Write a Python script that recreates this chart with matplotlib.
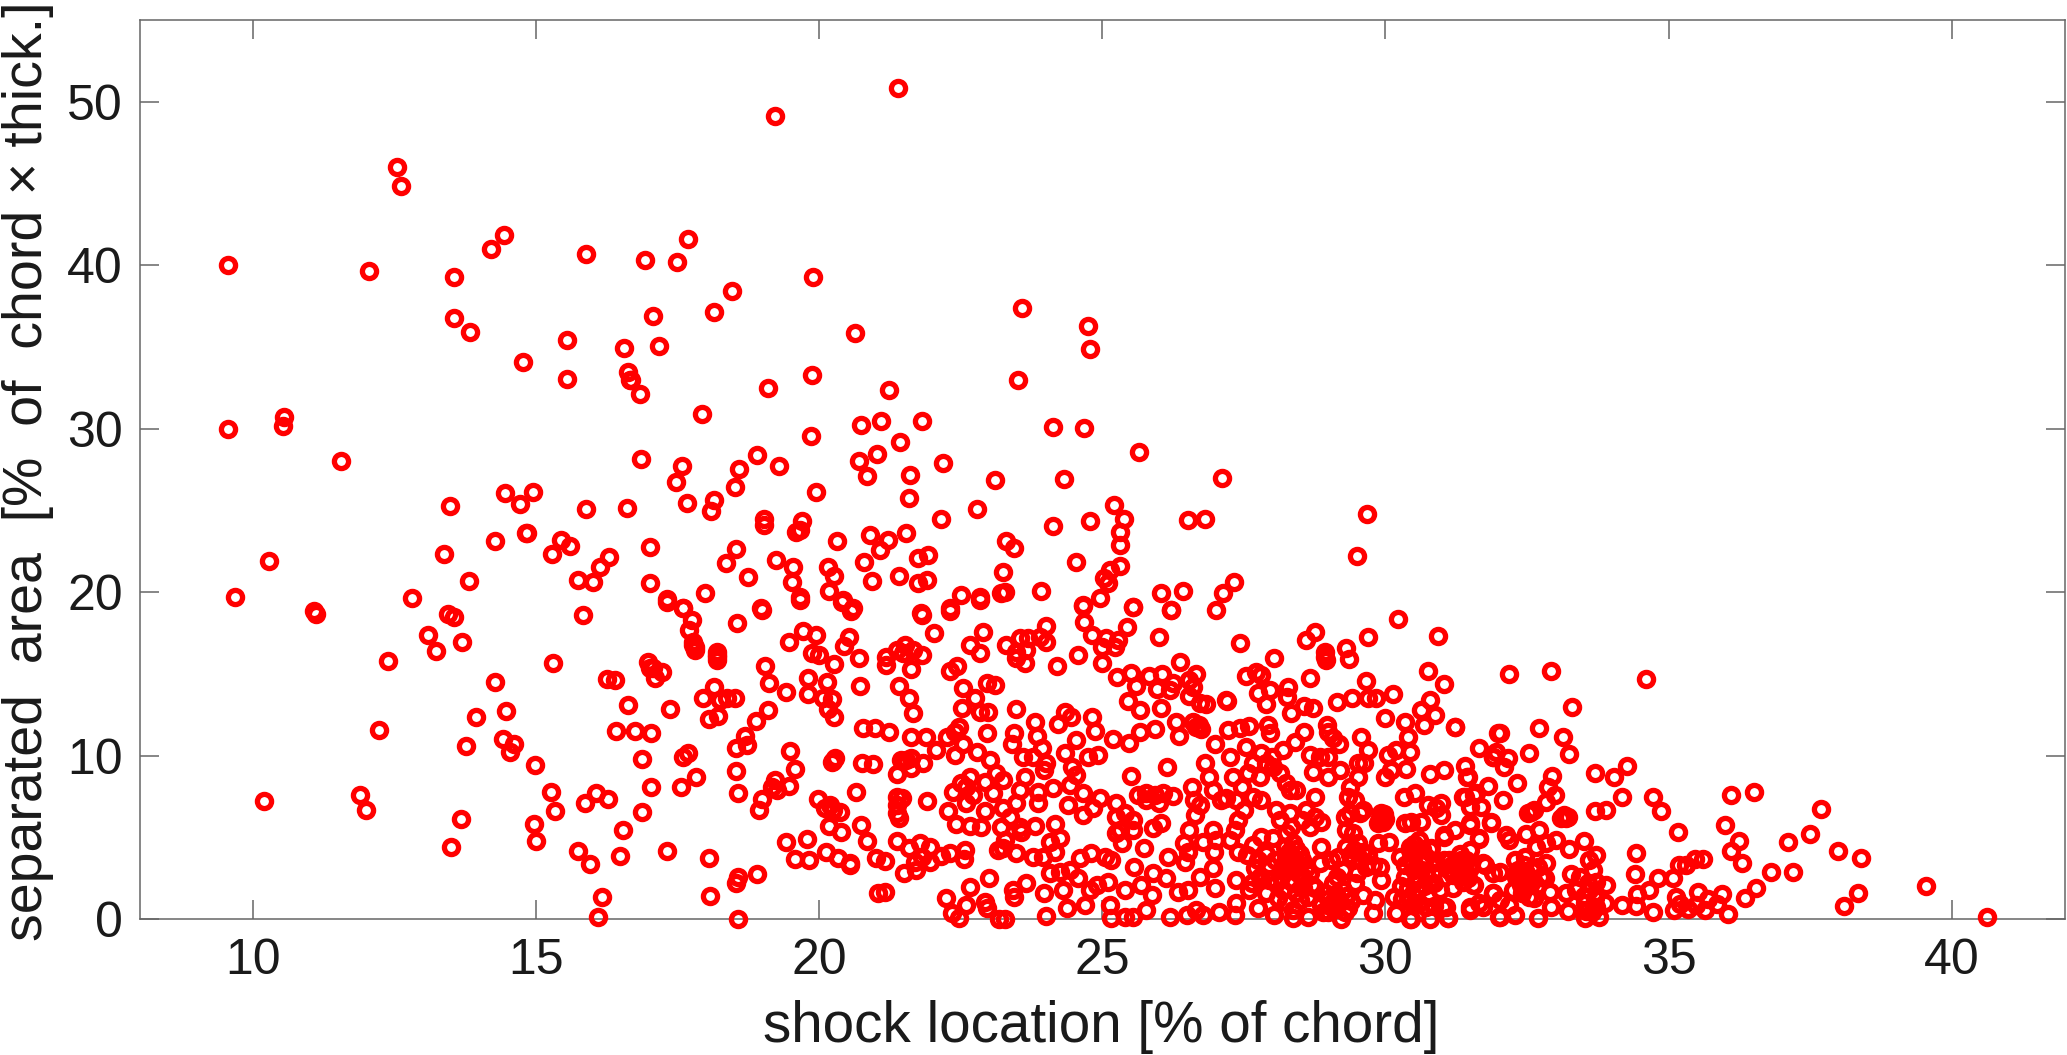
import numpy as np
import matplotlib
matplotlib.use("Agg")
import matplotlib.pyplot as plt

plt.rcParams['font.family'] = ['Liberation Sans', 'DejaVu Sans']

## values as (shock location, separated area)
top_left = [(21.4,50.85),(19.22,49.1),(12.55,46),(12.62,44.82),(9.57,40.03),(12.05,39.65),(13.55,39.3),(14.21,41),
    (14.44,41.85),(15.89,40.7),(16.92,40.34),(17.49,40.2),(17.68,41.6),(13.55,36.79),(13.83,35.89),(9.57,29.96),
    (10.55,30.72),(10.54,30.15),(11.56,28)]

upper_mid = [(19.9,39.25),(18.47,38.43),(18.15,37.15),(17.06,36.9),(15.55,35.4),(17.17,35.05),(16.56,34.91),(14.77,34.05),
    (15.54,33.05),(16.62,33.48),(16.66,32.97),(16.67,33.0),(16.84,32.11),(19.1,32.46),(19.87,33.28),(20.64,35.87),
    (21.24,32.34),(17.94,30.91),(20.74,30.24),(21.1,30.48),(21.82,30.48),(21.43,29.18),(19.85,29.52),(16.85,28.16),
    (18.9,28.38),(17.58,27.73),(18.59,27.51),(19.29,27.73),(20.7,28),(21.03,28.46),(20.85,27.12),(22.19,27.87),
    (21.61,27.14),(21.59,25.77),(23.11,26.83),(17.47,26.71),(18.51,26.41),(19.95,26.12),(14.45,26.04),(14.72,25.41),
    (14.95,26.1),(15.88,25.1),(16.61,25.14),(17.67,25.45),(18.15,25.63),(18.1,24.98),(19.02,24.45),(19.02,24.1),
    (19.7,24.35),(19.66,23.8),(19.6,23.65),(22.16,24.49),(22.79,25.08),(21.54,23.63),(20.9,23.51),(21.22,23.18),
    (21.07,22.57),(20.32,23.12),(14.84,23.59),(15.45,23.18),(15.61,22.84),(15.28,22.35),(16.29,22.17),(16.14,21.51),
    (17.02,22.74),(15.74,20.74),(16.0,20.64),(17.02,20.53),(18.53,22.63),(18.35,21.76),(18.75,20.9),(19.24,21.96),
    (19.54,21.55),(19.52,20.6),(20.16,21.55),(20.26,21),(20.18,20.09),(19.66,19.72),(20.43,19.52),(20.6,19.0),
    (20.8,21.82),(20.93,20.7),(21.41,21),(21.75,22.06),(21.93,22.27),(21.75,20.58),(21.9,20.74),(22.5,19.84),
    (22.85,19.72),(23.22,19.96),(17.31,19.55),(17.6,19.0),(17.99,19.92),(18.98,19),(21.8,18.7),(22.31,19),
    (15.84,18.6),(14.28,23.12)]

upper_right = [(23.59,37.35),(24.74,36.29),(24.78,34.86),(23.51,32.96),(24.13,30.11),(24.68,30.05),(25.65,28.6),(24.33,26.91),
    (27.11,26.95),(25.21,25.32),(25.38,24.48),(26.51,24.4),(26.81,24.46),(24.79,24.36),(24.13,24.05),(29.67,24.77),
    (29.5,22.22),(25.31,23.65),(25.32,22.91),(23.3,23.12),(23.45,22.69),(24.53,21.87),(25.31,21.59),(25.13,21.34),
    (25.03,20.87),(25.1,20.53),(23.25,21.2),(23.28,19.98),(23.92,20.04),(24.96,19.65),(24.66,19.2),(26.03,19.94),
    (26.43,20.04),(27.32,20.63),(27.14,19.96),(25.54,19.1),(26.21,18.9),(27,18.9)]

lower_left = [(10.28,21.9),(9.69,19.71),(11.09,18.84),(11.12,18.63),(10.2,7.22),(11.89,7.58),(12,6.67),(12.23,11.56),
    (12.39,15.78),(12.81,19.61),(13.1,17.35),(13.24,16.39),(13.37,22.34),(13.48,25.26),(13.44,18.65),(13.55,18.49),
    (13.7,16.94),(13.82,20.69),(14.83,23.59),(14.28,14.49),(14.47,12.74),(13.94,12.33),(13.76,10.58),(14.42,11.01),
    (14.61,10.68),(14.54,10.23),(14.98,9.42),(13.68,6.14),(13.5,4.42),(14.97,5.79),(15,4.79)]

lower_mid = [(15.31,15.68),(16.98,15.74),(17.07,15.33),(17.22,15.13),(17.1,14.72),(17.01,15.33),(16.25,14.68),(16.4,14.62),
    (16.62,13.09),(17.37,12.84),(16.42,11.52),(16.75,11.5),(17.03,11.4),(16.88,9.76),(17.6,9.93),(17.69,10.13),
    (15.27,7.75),(15.34,6.58),(15.87,7.11),(16.06,7.73),(16.28,7.34),(17.04,8.07),(17.82,8.7),(17.57,8.07),
    (16.87,6.54),(16.54,5.44),(15.74,4.18),(15.96,3.38),(16.48,3.85),(17.32,4.18),(16.17,1.32),(16.1,0.1),
    (18.05,3.75),(18.07,1.41),(18.56,0),(18.91,2.75),(18.57,2.59),(18.53,2.18),(17.31,19.41),(17.59,19),
    (17.75,18.29),(17.7,17.67),(17.78,16.96),(17.81,16.66),(17.81,16.45),(17.78,16.76),(18.19,16.35),(18.19,16.15),
    (18.19,15.84),(18.2,16.04),(18.55,18.08),(18.99,18.9),(18.15,14.21),(17.95,13.54),(18.25,13.39),(18.37,13.5),
    (18.51,13.5),(18.22,12.42),(18.06,12.23),(19.04,15.47),(19.12,14.41),(19.41,13.86),(19.47,16.96),(19.71,17.63),
    (19.94,17.37),(19.88,16.25),(20,16.15),(20.27,15.6),(20.53,17.27),(20.44,16.7),(20.7,15.94),(20.56,18.84),
    (20.4,19.41),(19.66,19.5),(19.81,14.76),(19.81,13.74),(20.14,14.47),(20.07,13.54),(20.22,13.46),(20.16,12.84),
    (20.27,12.37),(20.72,14.27),(19.09,12.78),(18.88,12.13),(18.7,11.21),(18.72,10.64),(18.54,10.44),(18.53,9.07),
    (18.56,7.68),(19.48,10.27),(19.58,9.15),(19.23,8.5),(19.16,8.09),(19.25,7.89),(19.47,8.13),(19,7.34),
    (18.94,6.67),(19.98,7.32),(20.19,6.97),(20.1,6.77),(20.37,6.56),(20.25,6.67),(20.17,5.69),(20.39,5.3),
    (19.41,4.69),(19.79,4.87),(19.57,3.67),(19.83,3.61),(20.13,4.08),(20.34,3.71),(20.54,3.4),(20.54,3.3),
    (20.74,5.73),(20.84,4.77),(21,3.71),(21.17,3.55),(21.04,1.61),(21.16,1.63),(20.28,9.83),(20.25,9.66),
    (20.22,9.62),(20.75,9.52),(20.95,9.5),(20.66,7.75),(20.78,11.66),(20.98,11.66),(21.24,11.42),(21.38,8.87),
    (21.45,9.72),(21.63,9.83),(21.63,9.21),(21.54,9.72),(21.84,9.52),(21.63,11.15),(21.88,11.15),(22.07,10.34),
    (22.25,11.15),(22.4,11.46),(22.47,11.76),(22.4,10.03),(22.54,10.7),(22.79,10.23),(22.97,11.36),(21.37,7.48),
    (21.46,7.38),(21.37,6.97),(21.37,6.46),(21.41,6.16),(21.91,7.22),(22.28,6.62),(22.41,5.81),(22.66,5.69),
    (22.86,5.61),(22.93,6.62),(21.38,4.79),(21.59,4.32),(21.78,4.63),(21.95,4.42),(22.16,3.87),(22.32,4.02),
    (22.57,4.22),(22.55,3.65),(21.69,3.51),(21.95,3.51),(21.81,3.81),(21.5,2.79),(21.72,2.99),(23.0,2.49),
    (22.67,1.98),(22.24,1.26),(22.6,0.86),(22.34,0.35),(22.47,0.04),(22.93,1.06),(22.96,0.65),(23.17,0),
    (21.81,18.59),(22.03,17.47),(22.31,18.84),(21.19,16.04),(21.19,15.53),(21.37,16.45),(21.51,16.76),(21.66,16.45),
    (21.81,16.15),(21.48,16.25),(21.62,15.29),(21.41,14.27),(21.58,13.54),(21.65,12.58),(22.43,15.47),(22.31,15.17),
    (22.54,14.15),(22.76,13.5),(22.53,12.88),(22.84,12.68),(22.98,12.68),(22.96,14.41),(23.1,14.31),(22.67,16.76),
    (22.84,16.25),(22.89,17.57),(22.84,19.5),(22.66,8.7),(22.51,8.3),(22.37,7.79),(22.6,7.07),(22.72,7.58),
    (22.93,8.4),(23.01,9.72),(23.07,7.68),(22.6,8.09),(23.13,8.91),(23.16,4.22)]

lower_centre = [(24.66,19.14),(25.54,19.06),(26.21,18.9),(24.67,18.14),(25.44,17.88),(24.82,17.37),(25.07,17.17),(25.28,17.06),
    (25.0,16.65),(25.22,16.65),(26.0,17.27),(27.43,16.9),(24.57,16.15),(25.0,15.64),(24.2,15.5),(24,17.9),
    (24,16.96),(23.9,17.27),(23.69,17.17),(23.55,17.2),(23.3,16.76),(23.47,15.94),(23.63,15.64),(23.66,16.45),
    (23.48,16.35),(26.37,15.7),(26.66,15.0),(25.26,14.82),(25.5,15.02),(25.83,14.88),(26.06,14.98),(25.6,14.27),
    (25.96,14.1),(26.19,14.0),(26.25,14.41),(26.54,14.62),(26.6,14.17),(26.54,13.64),(26.72,13.19),(26.84,13.15),
    (27.19,13.4),(27.21,13.35),(25.46,13.33),(25.66,12.78),(26.03,12.88),(23.47,12.82),(24.35,12.68),(24.44,12.33),
    (24.22,11.9),(24.82,12.37),(24.87,11.52),(23.81,12.03),(23.85,11.21),(23.44,11.36),(23.41,10.7),(23.93,10.44),
    (25.19,10.99),(25.48,10.74),(25.66,11.46),(25.93,11.62),(26.3,12.07),(26.36,11.19),(26.6,12.05),(26.7,11.85),
    (26.75,11.6),(26.65,11.75),(26.99,10.7),(27.22,11.56),(27.43,11.66),(27.6,11.82),(27.93,11.86),(27.96,11.35),
    (28.04,15.94),(27.53,14.88),(27.72,15.13),(27.81,14.92),(27.75,13.84),(27.96,14.0),(27.9,13.15),(28.28,14.21),
    (28.26,13.6),(28.67,14.72),(28.75,17.57),(28.6,17.06),(28.93,16.35),(28.93,16.04),(28.95,15.84),(29.31,16.61),
    (29.36,15.9),(29.7,17.23),(30.23,18.35),(30.92,17.33),(30.76,15.17),(31.03,14.35),(29.66,14.56),(29.14,13.29),
    (29.41,13.54),(29.69,13.5),(29.84,13.5),(30.13,13.76),(28.72,12.88),(28.57,13.03),(28.34,12.58),(30,12.27),
    (30.79,13.4),(30.62,12.78),(30.87,12.48),(30.69,11.86),(31.22,11.76),(30.34,12.07),(30.4,11.11),(29.57,11.15),
    (29.7,10.34),(29.18,10.68),(28.96,11.86),(28.99,11.46),(29.07,11.05),(28.57,11.46),(28.4,10.85),(28.19,10.34),
    (31.65,10.48),(31.9,9.93),(31.99,11.36),(31.4,9.38),(31.45,8.7),(31.03,9.11),(30.78,8.87),(30.37,9.17),
    (30.1,9.11),(29.99,8.66),(30.05,10.03),(30.19,10.34),(30.43,10.23),(31.82,8.13),(31.4,7.48),(31.6,7.73),
    (31.49,6.83),(31.69,6.87),(30.52,7.69),(30.33,7.48),(30.75,6.97),(30.99,7.07),(30.9,6.77),(30.99,6.36),
    (31.87,5.85),(31.66,4.93),(31.49,5.85),(26.15,9.3),(25.5,8.77),(25.63,7.58),(25.78,7.68),(25.93,7.58),
    (26.07,7.68),(26.25,7.54),(25.78,7.28),(26.01,7.07),(26.59,8.09),(26.62,7.28),(26.72,6.97),(26.63,6.36),
    (26.54,5.44),(26.96,5.44),(26.78,4.73),(26.44,4.63),(26.51,4.12),(26.98,4.12),(27.34,5.44),(27.4,6.05),
    (26.96,7.89),(26.88,8.7),(26.81,9.52),(27.1,7.28),(27.19,7.38),(27.31,8.7),(27.25,9.93),(27.54,10.54),
    (27.78,8.7),(27.81,7.28),(28.07,6.67),(28.13,6.05),(28.76,7.48),(28.31,7.89),(29.46,7.28),(29.37,6.46),
    (29.6,6.67),(29.28,6.26),(29.31,5.44),(29.93,6.5),(29.9,6.2),(29.95,5.95),(30,6.1),(29.87,5.9),
    (29.98,6.4),(26.04,5.85),(25.9,5.54),(25.74,4.32),(25.25,7.07),(25.25,6.26),(25.4,6.46),(25.54,6.05),
    (25.31,5.44),(25.54,5.44),(25.25,5.24),(25.34,4.63),(24.17,5.81),(23.81,5.71),(23.57,5.34),(24.07,4.73),
    (24.25,4.93),(24.16,4.12),(23.48,4.02),(23.78,3.81),(23.95,3.81),(23.25,4.32),(24.6,3.71),(24.81,4.02),
    (25.04,3.81),(25.16,3.61),(26.16,3.81),(26.46,3.51),(26.72,2.59),(26.96,3.1),(26.99,1.88),(25.56,3.2),
    (25.9,2.79),(26.13,2.49),(24.57,2.49),(24.31,1.77),(23.98,1.61),(23.66,2.18),(23.43,1.77),(23.45,1.37),
    (24.07,2.79),(24.25,2.9),(24.43,3),(24.78,1.77),(24.69,0.86),(24.37,0.65),(24,0.2),(23.28,0),
    (24.9,2.08),(25.1,2.27),(25.4,1.77),(25.69,2.08),(25.87,1.47),(26.34,1.67),(26.51,1.77),(25.13,0.86),
    (25.16,0.04),(25.4,0.14),(25.54,0.14),(25.78,0.55),(26.19,0.14),(26.49,0.24),(26.66,0.55),(26.78,0.24),
    (27.07,0.41),(27.34,0.24),(27.36,2.38),(27.36,0.96)]

dense_core = [(27.69,3.1),(27.66,4.53),(27.81,5.03),(27.9,4.0),(28.02,4.93),(27.6,1.77),(27.78,2.59),(27.75,0.65),
    (27.9,1.57),(28.04,0.24),(28.07,2.18),(28.19,3.2),(28.25,3.81),(28.37,4.63),(28.49,4),(28.31,2.99),
    (28.46,3.2),(28.19,1.77),(28.37,2.18),(28.54,2.59),(28.66,2.79),(28.25,1.06),(28.49,1.16),(28.37,0.04),
    (28.37,0.55),(28.63,0.14),(28.75,1.87),(28.63,1.37),(28.87,4.42),(28.84,3.4),(29.04,3.61),(29.16,3.81),
    (29.31,4.42),(29.52,4.63),(29.6,4.12),(29.43,3.61),(29.25,3),(29.49,2.79),(29.07,2.18),(28.93,1.57),
    (28.87,0.86),(29.07,1.06),(28.99,0.45),(29.25,1.77),(29.19,1.06),(29.22,0),(29.34,0.65),(29.6,1.47),
    (29.46,2.18),(29.78,0.35),(29.81,1.16),(29.93,2.38),(29.9,3.2),(29.66,3.2),(29.87,4.63),(30.07,4.73),
    (30.25,3.81),(30.16,1.37),(30.19,0.35),(30.46,0),(30.49,0.86),(30.78,0),(31.1,0.04),(30.72,0.75),
    (31.02,0.75),(30.34,5.85),(30.63,5.95),(30.6,4.83),(30.81,4.32),(30.43,4.22),(31.04,5.14),(31.22,5.44),
    (31.49,4.22),(31.34,3.61),(31.72,3.4),(31.9,2.79),(31.55,2.08),(31.9,1.57),(31.49,0.75),(31.72,0.75),
    (32,0.14),(27.46,8.09),(27.57,8.91),(27.66,9.52),(27.9,9.52),(28.02,9.31),(27.81,10.13),(27.99,9.93),
    (28.13,8.91),(28.25,8.3),(28.43,7.89),(27.37,7.28),(27.51,6.67),(27.66,7.48),(28.31,6.46),(28.6,6.67),
    (28.75,6.26),(28.87,5.95),(28.66,5.65),(28.52,6.05),(28.34,5.65),(28.25,5.24),(29.34,7.48),(29.43,5.24),
    (29.55,6.46),(28.66,10.03),(28.84,9.93),(28.99,9.93),(28.72,9),(28.99,8.7),(29.19,9.11),(29.37,8.09),
    (29.52,8.7),(29.63,9.52),(29.52,9.52),(27.4,4.12),(27.25,4.83),(27.01,4.83),(23.6,9.93),(23.78,9.93),
    (24.01,9.52),(23.98,9.11),(24.34,10.13),(24.54,10.95),(24.46,9.31),(24.54,8.81),(24.75,9.93),(24.93,10.03),
    (23.63,8.7),(23.54,7.89),(23.87,7.79),(24.13,7.99),(24.43,8.19),(24.66,7.69),(24.96,7.38),(23.48,7.07),
    (23.87,7.07),(24.4,6.97),(24.84,6.77),(24.66,6.36),(23.25,8.5),(23.25,6.77),(23.54,5.65),(23.28,4.83),
    (23.22,5.65),(23.37,6.26)]

## the solid red clumps, where single rings can only be guessed at
dense_extra = [(28.22,4.4),(28.3,4.1),(28.42,4.3),(28.33,3.5),(28.4,3.7),(28.52,3.6),(28.28,3.3),(28.45,2.8),
    (28.15,2.6),(28.3,2.4),(28.1,1.3),(28.55,1.9),(28.42,1.6),(28.7,2.1),(28.6,3.1),(28.05,3.6),
    (29.45,4.2),(29.55,3.7),(29.38,3.9),(29.7,3.9),(29.78,3.3),(29.3,1.4),(29.12,1.5),(29.02,0.8),
    (29.13,0.6),(29.28,0.4),(29.4,1.1),(29.15,2.6),(28.98,1.2),(28.9,0.4),
    (30.35,3.3),(30.5,3.0),(30.62,3.4),(30.72,2.8),(30.58,2.6),(30.72,3.8),(30.4,1.9),(30.55,1.8),
    (30.68,2.0),(30.86,2.2),(30.28,2.0),(30.5,4.6),(30.65,4.3),(30.88,3.5),(30.3,1.2),(30.85,0.8),
    (31.18,3.3),(31.28,3.1),(31.38,3.4),(31.5,3.1),(31.2,2.7),(31.32,2.6),(31.45,2.5),(31.12,3.0),
    (32.35,3.0),(32.45,3.3),(32.58,3.0),(32.7,3.2),(32.4,2.1),(32.55,2.1),(32.68,2.0),(32.42,1.6),
    (32.62,1.3),(32.3,2.6),(32.75,2.6),(33.5,1.4),(33.55,0.5),(33.65,0.4),(33.7,1.3),(33.58,2.2),
    (27.55,3.9),(27.75,3.6),(27.95,3.3),(27.65,2.2),(27.95,2.4)]

right_side = [(32.18,14.98),(32.93,15.18),(34.6,14.67),(33.29,12.94),(31.23,11.72),(32.03,11.35),(32.71,11.66),(33.13,11.13),
    (33.24,10.09),(31.96,10.23),(31.9,9.92),(32.16,9.82),(32.1,9.31),(32.54,10.17),(31.44,8.7),(32.33,8.35),
    (32.08,7.31),(32.94,8.74),(32.87,8.09),(32.99,7.58),(32.84,7.17),(33.7,8.95),(34.04,8.7),(34.26,9.35),
    (34.18,7.44),(34.72,7.48),(34.87,6.62),(33.7,6.62),(33.9,6.66),(35.16,5.3),(32.57,6.56),(32.52,6.46),
    (32.63,6.66),(33.13,6.25),(33.1,6.15),(33.19,6.15),(33.16,6.36),(33.22,6.25),(31.57,7.58),(31.37,7.48),
    (31.87,5.91),(31.49,5.74),(31.66,4.89),(31.04,5.03),(32.13,5.13),(32.19,4.83),(32.49,5.23),(32.72,5.44),
    (33.02,4.83),(32.84,4.62),(32.66,4.42),(33.25,4.26),(33.5,4.75),(33.72,3.91),(33.6,3.6),(33.66,2.99),
    (34.42,4.01),(34.41,2.73),(35.19,3.3),(35.47,3.7),(35.07,2.48),(34.81,2.48),(34.66,1.77),(33.27,2.73),
    (32.03,2.85),(31.75,3.3),(31.4,3),(31.13,3.6),(31.31,4),(31.43,3.6),(32.28,3.6),(32.46,3.81),
    (32.84,3.4),(32.49,2.79),(32.37,2.38),(32.6,2.38),(32.81,2.48),(32.49,1.97),(32.54,1.36),(32.25,1.77),
    (32.9,1.67),(33.43,2.58),(33.72,2.28),(33.9,2.07),(33.37,1.77),(33.6,1.77),(33.19,1.57),(32.93,0.75),
    (33.22,0.49),(33.52,0.95),(33.72,0.75),(33.87,0.95),(33.52,0.04),(33.78,0.14),(34.17,0.85),(34.42,0.81),
    (34.44,1.52),(34.72,0.44),(35.1,0.53),(35.13,1.36),(35.49,0.85),(35.52,1.67),(32.69,0.08),(32.28,0.24),
    (32.02,0.14),(31.9,1.57),(31.66,0.95),(32.02,1.16),(32.19,0.85),(31.49,0.55),(31.11,0.04),(30.43,0),
    (31.57,2.07),(31.37,2.28),(31.19,1.87),(30.96,1.77),(31.07,0.75),(30.84,2.79),(30.63,3),(30.43,3.6),
    (30.54,2.38),(30.34,2.58),(30.6,0.95),(30.43,1.16),(30.75,1.36),(30.51,4),(30.78,4.3),(30.43,4.42),
    (31.04,3.6),(30.46,5.95)]

far_right = [(35.3,3.3),(35.6,3.7),(36.1,7.6),(36.5,7.75),(36,5.75),(36.25,4.8),(36.1,4.15),(36.3,3.4),
    (36.8,2.9),(37.2,2.85),(37.1,4.7),(37.5,5.2),(37.7,6.75),(38,4.15),(38.4,3.75),(38.35,1.6),
    (38.1,0.8),(39.55,2),(40.62,0.15),(35.7,1.2),(35.85,0.9),(36.05,0.3),(35.95,1.5),(36.35,1.3),
    (36.55,1.9),(35.65,0.55),(35.35,0.6),(35.2,0.9)]

x_ticks = [10, 15, 20, 25, 30, 35, 40]
y_ticks = [0, 10, 20, 30, 40, 50]

points = np.array(top_left + upper_mid + upper_right + lower_left + lower_mid + lower_centre
                  + dense_core + dense_extra + right_side + far_right)

W, H = 2067, 1055
fig = plt.figure(figsize=(W/100, H/100), dpi=100)
ax = fig.add_axes([139.5/W, 1-919/H, (2065-139.5)/W, (919-20)/H])

ax.plot(points[:, 0], points[:, 1], 'o', mfc='none', mec='#ff0000', ms=10.2, mew=3.8, clip_on=False, zorder=3)

ax.set_xlim(8, 42)
ax.set_ylim(0, 55)
ax.set_xticks(x_ticks)
ax.set_yticks(y_ticks)
ax.tick_params(direction='in', length=14, width=1.1, color='#666666', top=True, right=True,
               labelsize=36, labelcolor='#1a1a1a')
ax.tick_params(axis='x', pad=14)
ax.tick_params(axis='y', pad=12)
for s in ax.spines.values():
    s.set_color('#666666')
    s.set_linewidth(1.1)

fig.text(1101/W, 1-1042/H, 'shock location [% of chord]', fontsize=40.8, color='#1a1a1a',
         ha='center', va='baseline')
fig.text(41.7/W, 1-941/H, 'separated  area  [%  of  chord \u00d7 thick.]', fontsize=40, color='#1a1a1a',
         rotation=90, rotation_mode='anchor', ha='left', va='baseline')

fig.savefig('out.png', dpi=100)
